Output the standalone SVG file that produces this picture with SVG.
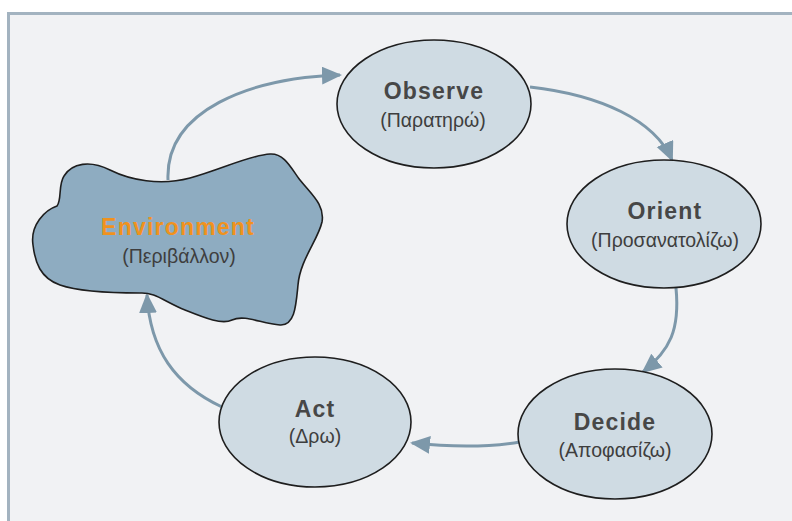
<svg xmlns="http://www.w3.org/2000/svg" width="792" height="521" viewBox="0 0 792 521">
<style>
.ell{fill:#cfdbe3;stroke:#1e1e1e;stroke-width:1.6}
.t{font-family:"Liberation Sans",Arial,sans-serif;font-weight:bold;font-size:23px;letter-spacing:1.2px;fill:#474747;text-anchor:middle}
.s{font-family:"Liberation Sans",Arial,sans-serif;font-size:19.5px;fill:#3e3e3e;text-anchor:middle}
.c{fill:none;stroke:#7d98aa;stroke-width:3;marker-end:url(#ah)}
</style>
<defs>
<marker id="ah" markerUnits="userSpaceOnUse" markerWidth="22" markerHeight="20" refX="18" refY="9" orient="auto">
<path d="M0,0 L20,9 L0,18 Z" fill="#7d98aa"/>
</marker>
</defs>
<rect x="0" y="0" width="792" height="521" fill="#ffffff"/>
<rect x="8.5" y="13.5" width="800" height="520" fill="#f1f2f4" stroke="#a3b3c0" stroke-width="3"/>
<g id="connectors">
<path class="c" d="M168,180 C165,110 250,78 340,75"/>
<path class="c" d="M530,87 C600,95 655,120 672,160"/>
<path class="c" d="M676,288 C680,330 670,350 643,372"/>
<path class="c" d="M520,442 C490,447 450,447 412,443"/>
<path class="c" d="M222,407 C175,385 150,350 147,295"/>
</g>
<g id="environment">
<path d="M33,245 C30,225 45,210 57,206 C62,200 58,185 64,176 C72,163 90,160 110,170 C130,180 160,186 190,178 C220,170 250,155 270,154 C285,153 292,170 300,180 C312,195 325,205 322,222 C318,240 300,260 298,285 C296,305 295,326 280,325 C262,324 245,314 232,320 C222,325 205,318 185,310 C165,302 155,292 140,293 C110,293 80,292 60,285 C40,278 35,262 33,245 Z" fill="#8eacc1" stroke="#1e1e1e" stroke-width="1.6"/>
<text class="t" x="178" y="235" style="fill:#f0921e">Environment</text>
<text class="s" x="179" y="263">(Περιβάλλον)</text>
</g>
<g id="observe">
<ellipse class="ell" cx="434" cy="104" rx="97" ry="64"/>
<text class="t" x="434" y="99">Observe</text>
<text class="s" x="433" y="127">(Παρατηρώ)</text>
</g>
<g id="orient">
<ellipse class="ell" cx="664" cy="224" rx="97" ry="64"/>
<text class="t" x="665" y="219">Orient</text>
<text class="s" x="665" y="247">(Προσανατολίζω)</text>
</g>
<g id="decide">
<ellipse class="ell" cx="615" cy="434" rx="97" ry="65"/>
<text class="t" x="615" y="430">Decide</text>
<text class="s" x="615" y="457">(Αποφασίζω)</text>
</g>
<g id="act">
<ellipse class="ell" cx="315" cy="422" rx="96" ry="65"/>
<text class="t" x="315" y="417">Act</text>
<text class="s" x="315" y="443">(Δρω)</text>
</g>
</svg>
